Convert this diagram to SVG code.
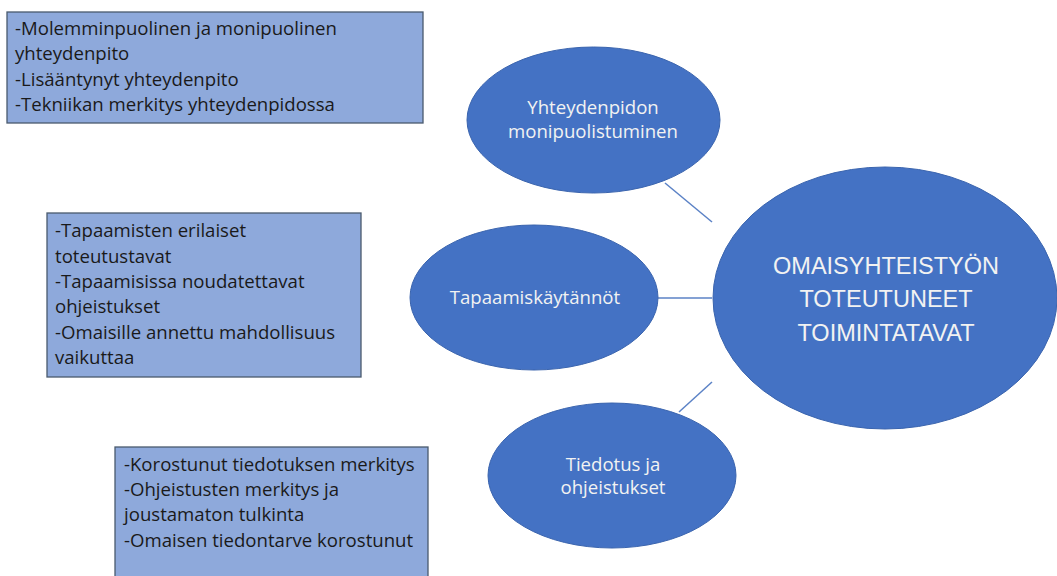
<svg xmlns="http://www.w3.org/2000/svg" width="1057" height="576" viewBox="0 0 1057 576">
<style>
.box{fill:#8EA9DB;stroke:#4A5A6E;stroke-width:1.3}
.bt{font-family:"Open Sans","Liberation Sans",Arial,sans-serif;font-size:18.6px;fill:#1a1a1a}
.ell{fill:#4472C4;stroke:#3A64AE;stroke-width:1}
.et{font-family:"Open Sans","Liberation Sans",Arial,sans-serif;font-size:18.6px;fill:#F2F2F2;text-anchor:middle}
.ct{font-family:"Liberation Sans",Arial,sans-serif;font-size:23.5px;fill:#F2F2F2;text-anchor:middle}
.con{stroke:#5B82C6;stroke-width:1.5;fill:none}
</style>
<rect width="1057" height="576" fill="#FFFFFF"/>
<g id="connectors">
<line class="con" x1="665" y1="183" x2="712" y2="222"/>
<line class="con" x1="658" y1="298" x2="712" y2="298"/>
<line class="con" x1="712" y1="382" x2="679" y2="412"/>
</g>
<g id="box1">
<rect class="box" x="7" y="12" width="416" height="111"/>
<text class="bt" x="15" y="35">-Molemminpuolinen ja monipuolinen</text>
<text class="bt" x="15" y="60">yhteydenpito</text>
<text class="bt" x="15" y="86">-Lisääntynyt yhteydenpito</text>
<text class="bt" x="15" y="111">-Tekniikan merkitys yhteydenpidossa</text>
</g>
<g id="box2">
<rect class="box" x="47" y="213" width="314" height="164"/>
<text class="bt" x="55" y="237">-Tapaamisten erilaiset</text>
<text class="bt" x="55" y="263">toteutustavat</text>
<text class="bt" x="55" y="288">-Tapaamisissa noudatettavat</text>
<text class="bt" x="55" y="313">ohjeistukset</text>
<text class="bt" x="55" y="339">-Omaisille annettu mahdollisuus</text>
<text class="bt" x="55" y="364">vaikuttaa</text>
</g>
<g id="box3">
<rect class="box" x="115" y="447" width="313" height="140"/>
<text class="bt" x="124" y="471">-Korostunut tiedotuksen merkitys</text>
<text class="bt" x="124" y="496">-Ohjeistusten merkitys ja</text>
<text class="bt" x="124" y="521">joustamaton tulkinta</text>
<text class="bt" x="124" y="547">-Omaisen tiedontarve korostunut</text>
</g>
<g id="node-yhteydenpidon">
<ellipse class="ell" cx="593.5" cy="120" rx="126.5" ry="73"/>
<text class="et" x="593" y="114">Yhteydenpidon</text>
<text class="et" x="593" y="138">monipuolistuminen</text>
</g>
<g id="node-tapaamis">
<ellipse class="ell" cx="534" cy="297.5" rx="124" ry="72.5"/>
<text class="et" x="535" y="304">Tapaamiskäytännöt</text>
</g>
<g id="node-tiedotus">
<ellipse class="ell" cx="612" cy="475.5" rx="124" ry="72.5"/>
<text class="et" x="613" y="471">Tiedotus ja</text>
<text class="et" x="613" y="494">ohjeistukset</text>
</g>
<g id="node-center">
<ellipse class="ell" cx="885" cy="298" rx="172" ry="131"/>
<text class="ct" x="886" y="274">OMAISYHTEISTYÖN</text>
<text class="ct" x="886" y="307">TOTEUTUNEET</text>
<text class="ct" x="886" y="341">TOIMINTATAVAT</text>
</g>
</svg>
